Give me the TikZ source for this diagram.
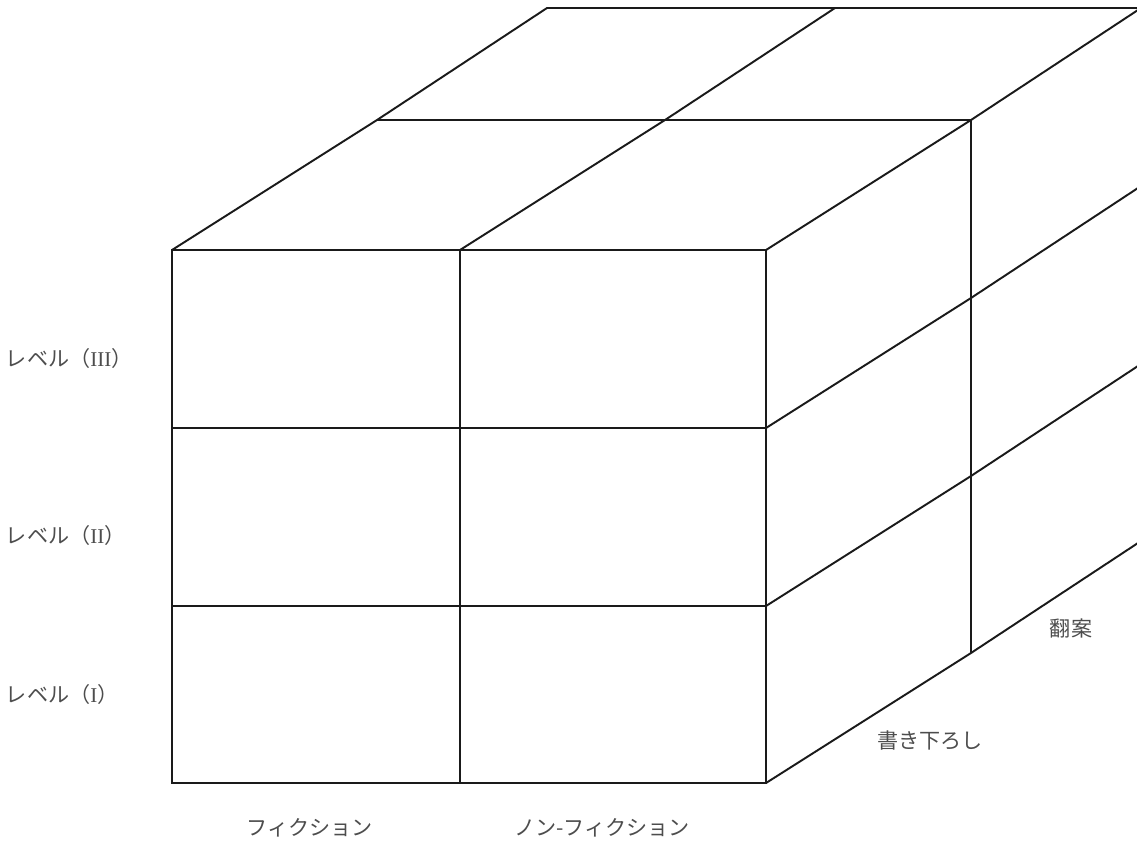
\documentclass[tikz,border=0pt]{standalone}
\usepackage{fontspec}
\setmainfont{Liberation Serif}
\newfontfamily\jpfont{Noto Sans CJK JP}
\usepackage{tikz}
\definecolor{labelgray}{HTML}{4D4D4D}
\definecolor{edgeblack}{HTML}{1A1A1A}

\begin{document}
\begin{tikzpicture}[x=0.02cm,y=-0.02cm,line width=1.1pt,edgeblack,
  lbl/.style={text=labelgray,font=\jpfont\fontsize{12}{14}\selectfont,inner sep=0pt}]
  \useasboundingbox (0,0) rectangle (1137,840);
  \begin{scope}
    \clip (0,0) rectangle (1137,840);
    % front face
    \draw (172,250) rectangle (766,783);
    \draw (460,250) -- (460,783);
    \foreach \y in {428,606}
      \draw (172,\y) -- (766,\y);
    % top face
    \draw (172,250) -- (377,120) -- (547,8) -- (1141,8);
    \draw (460,250) -- (665,120) -- (835,8);
    \draw (766,250) -- (971,120) -- (1141,8);
    \draw (377,120) -- (971,120) -- (971,653);
    % right face
    \foreach \y/\z in {428/298,606/476,783/653}
      \draw (766,\y) -- (971,\z) -- ++(170,-112);
  \end{scope}
  % levels
  \node[lbl,anchor=west] (lev3) at (5,358) {レベル（{\rmfamily III}）};
  \node[lbl,anchor=west] (lev2) at (5,535) {レベル（{\rmfamily II}）};
  \node[lbl,anchor=west] (lev1) at (5,694) {レベル（{\rmfamily I}）};
  % genres
  \node[lbl] (fic) at (310,828) {フィクション};
  \node[lbl] (nonfic) at (602,828) {ノン-フィクション};
  % origin
  \node[lbl] (orig) at (930,740) {書き下ろし};
  \node[lbl] (adapt) at (1071,628) {翻案};
\end{tikzpicture}
\end{document}
